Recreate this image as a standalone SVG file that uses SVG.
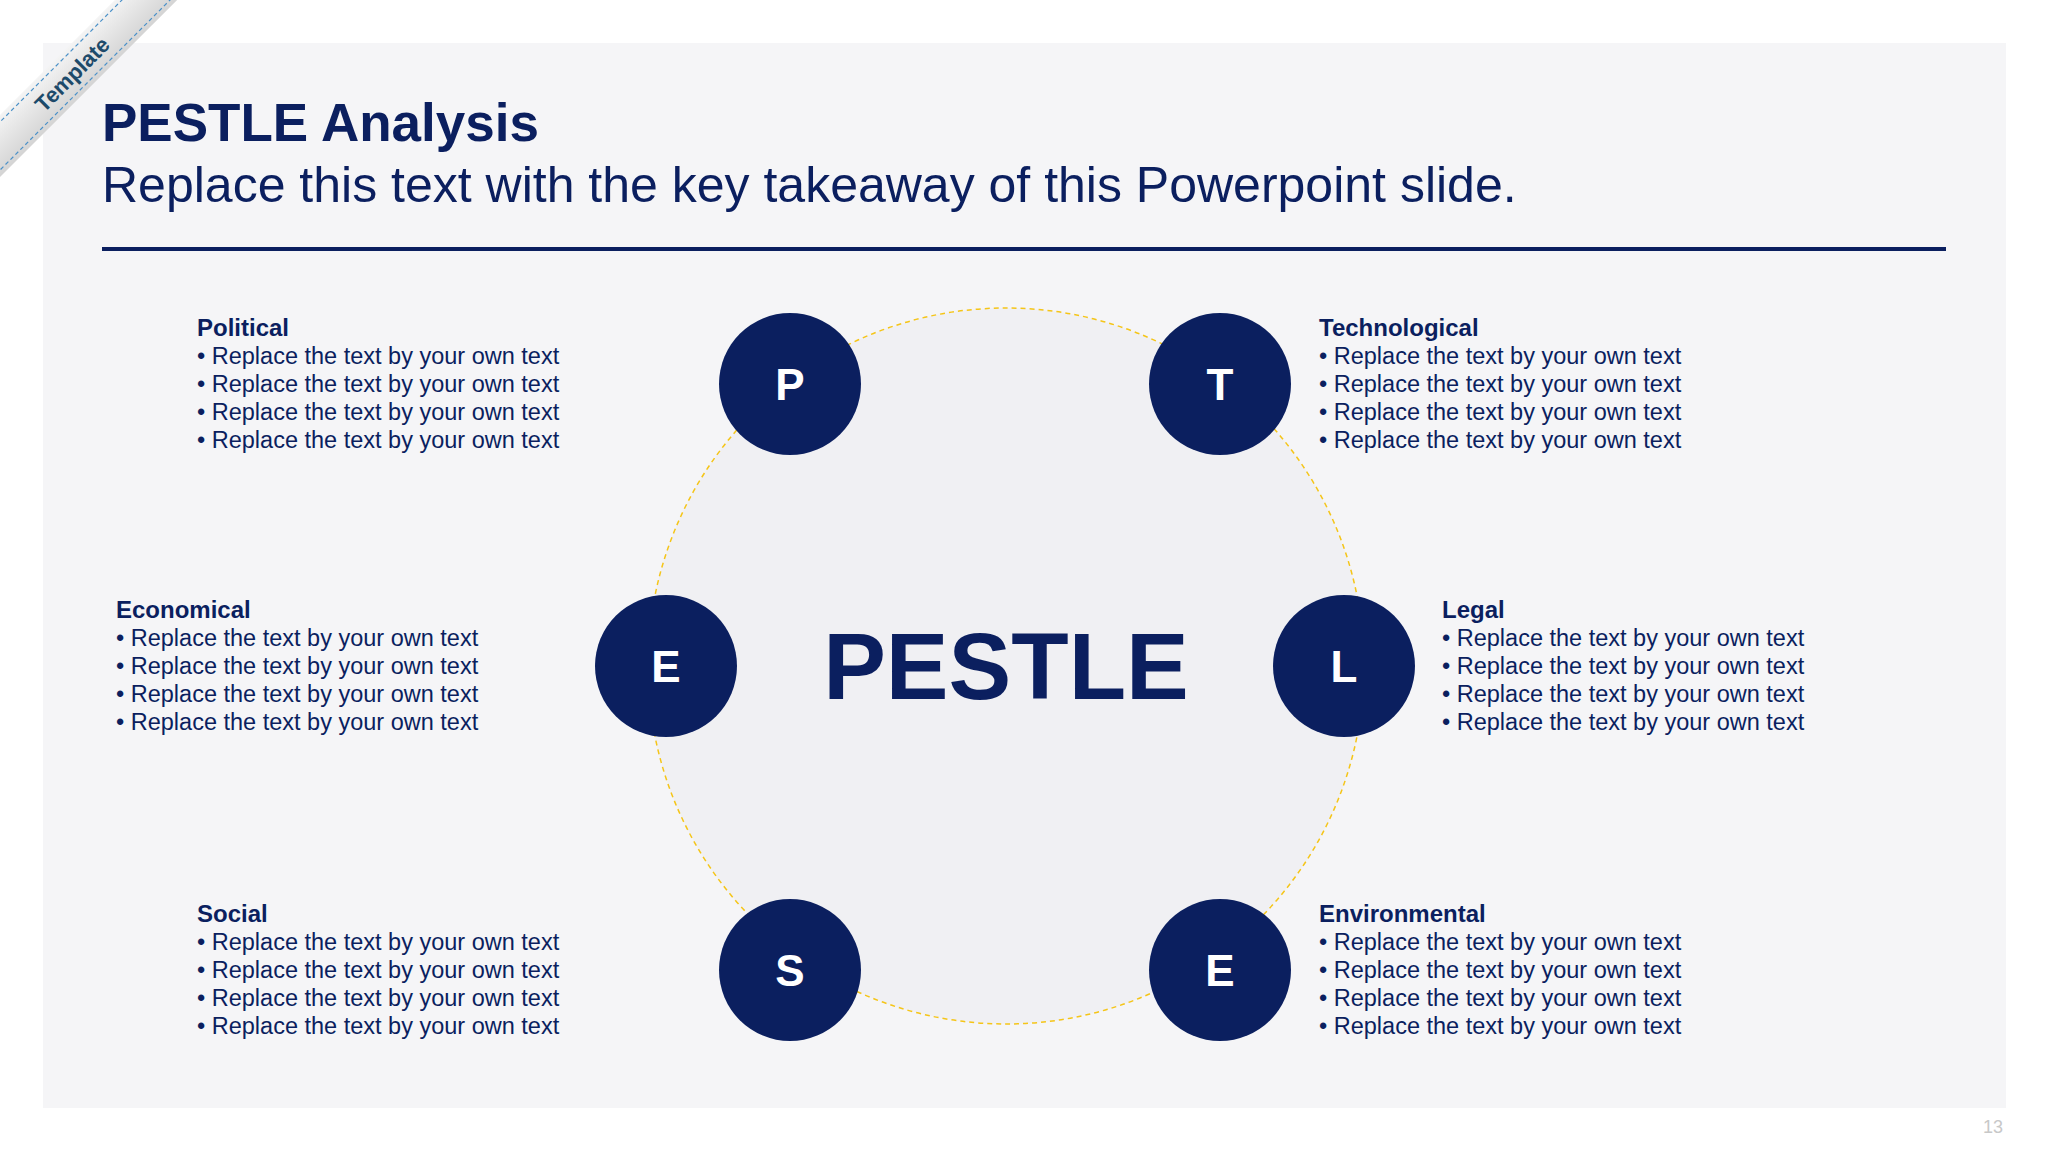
<svg xmlns="http://www.w3.org/2000/svg" width="2048" height="1152" viewBox="0 0 2048 1152">
<defs>
<style>
.h{font-family:"Liberation Sans",Arial,sans-serif;font-weight:bold;font-size:24px;fill:#0b1f5f}
.b{font-family:"Liberation Sans",Arial,sans-serif;font-size:23.5px;fill:#0b1f5f}
.n circle{fill:#0b1f5f}
.n text{font-family:"Liberation Sans",Arial,sans-serif;font-weight:bold;font-size:44px;fill:#fff;text-anchor:middle}
</style>
<linearGradient id="rg" x1="0" y1="0" x2="0" y2="1"><stop offset="0" stop-color="#f4f4f4"/><stop offset="1" stop-color="#d4d4d4"/></linearGradient>
</defs>
<rect width="2048" height="1152" fill="#fff"/>
<rect x="43" y="43" width="1963" height="1065" fill="#f5f5f7"/>
<g id="ribbon" transform="translate(72,74) rotate(-45)">
<rect x="-160" y="-22" width="320" height="44" fill="url(#rg)"/>
<line x1="-160" y1="-17" x2="160" y2="-17" stroke="#4a90c8" stroke-width="1.2" stroke-dasharray="4 3"/>
<line x1="-160" y1="17" x2="160" y2="17" stroke="#4a90c8" stroke-width="1.2" stroke-dasharray="4 3"/>
<text x="0" y="8" text-anchor="middle" font-family="Liberation Sans,Arial,sans-serif" font-weight="bold" font-size="22" fill="#1d4a6a">Template</text>
</g>
<text x="102" y="141" font-family="Liberation Sans,Arial,sans-serif" font-weight="bold" font-size="53" fill="#0b1f5f">PESTLE Analysis</text>
<text x="102" y="202" font-family="Liberation Sans,Arial,sans-serif" font-size="50" fill="#0b1f5f">Replace this text with the key takeaway of this Powerpoint slide.</text>
<line x1="102" y1="249" x2="1946" y2="249" stroke="#0b1f5f" stroke-width="4"/>
<g id="connectors">
<circle cx="1006" cy="666" r="358" fill="#f0f0f3" stroke="#f5c518" stroke-width="1.5" stroke-dasharray="5 4"/>
</g>
<text x="1006" y="699" text-anchor="middle" font-family="Liberation Sans,Arial,sans-serif" font-weight="bold" font-size="94" fill="#0b1f5f">PESTLE</text>
<g id="nP" class="n"><circle cx="790" cy="384" r="71"/><text x="790" y="400">P</text></g>
<g id="nT" class="n"><circle cx="1220" cy="384" r="71"/><text x="1220" y="400">T</text></g>
<g id="nE1" class="n"><circle cx="666" cy="666" r="71"/><text x="666" y="682">E</text></g>
<g id="nL" class="n"><circle cx="1344" cy="666" r="71"/><text x="1344" y="682">L</text></g>
<g id="nS" class="n"><circle cx="790" cy="970" r="71"/><text x="790" y="986">S</text></g>
<g id="nE2" class="n"><circle cx="1220" cy="970" r="71"/><text x="1220" y="986">E</text></g>
<g id="tP"><text class="h" x="197" y="336">Political</text>
<text class="b" x="197" y="364">•  Replace the text by your own text</text><text class="b" x="197" y="392">•  Replace the text by your own text</text><text class="b" x="197" y="420">•  Replace the text by your own text</text><text class="b" x="197" y="448">•  Replace the text by your own text</text></g>
<g id="tT"><text class="h" x="1319" y="336">Technological</text>
<text class="b" x="1319" y="364">•  Replace the text by your own text</text><text class="b" x="1319" y="392">•  Replace the text by your own text</text><text class="b" x="1319" y="420">•  Replace the text by your own text</text><text class="b" x="1319" y="448">•  Replace the text by your own text</text></g>
<g id="tE1"><text class="h" x="116" y="618">Economical</text>
<text class="b" x="116" y="646">•  Replace the text by your own text</text><text class="b" x="116" y="674">•  Replace the text by your own text</text><text class="b" x="116" y="702">•  Replace the text by your own text</text><text class="b" x="116" y="730">•  Replace the text by your own text</text></g>
<g id="tL"><text class="h" x="1442" y="618">Legal</text>
<text class="b" x="1442" y="646">•  Replace the text by your own text</text><text class="b" x="1442" y="674">•  Replace the text by your own text</text><text class="b" x="1442" y="702">•  Replace the text by your own text</text><text class="b" x="1442" y="730">•  Replace the text by your own text</text></g>
<g id="tS"><text class="h" x="197" y="922">Social</text>
<text class="b" x="197" y="950">•  Replace the text by your own text</text><text class="b" x="197" y="978">•  Replace the text by your own text</text><text class="b" x="197" y="1006">•  Replace the text by your own text</text><text class="b" x="197" y="1034">•  Replace the text by your own text</text></g>
<g id="tE2"><text class="h" x="1319" y="922">Environmental</text>
<text class="b" x="1319" y="950">•  Replace the text by your own text</text><text class="b" x="1319" y="978">•  Replace the text by your own text</text><text class="b" x="1319" y="1006">•  Replace the text by your own text</text><text class="b" x="1319" y="1034">•  Replace the text by your own text</text></g>
<text x="2003" y="1133" text-anchor="end" font-family="Liberation Sans,Arial,sans-serif" font-size="18" fill="#c8c8c8">13</text>
</svg>
